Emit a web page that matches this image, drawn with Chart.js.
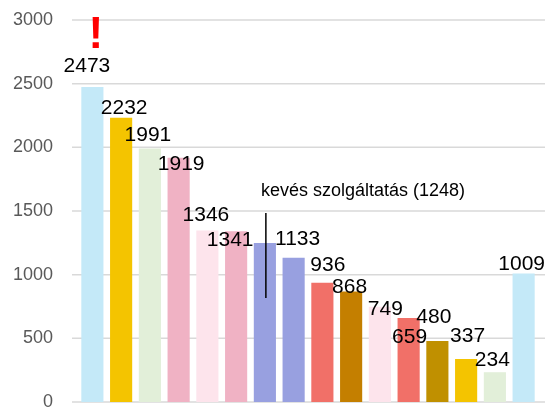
<!DOCTYPE html>
<html>
<head>
<meta charset="utf-8">
<script src="https://cdn.jsdelivr.net/npm/chart.js@4"></script>
<style>
html,body{margin:0;padding:0;background:#fff;overflow:hidden;}
#wrap{width:550px;height:408px;position:relative;}
</style>
</head>
<body>
<div id="wrap"><canvas id="c" width="550" height="408"></canvas></div>
<script>
// ---- data ----
const categories = ["1","2","3","4","5","6","kevés szolgáltatás","8","9","10","11","12","13","14","15","16"];
const values = [2473, 2232, 1991, 1919, 1346, 1341, 1248, 1133, 936, 868, 749, 659, 480, 337, 234, 1009];
const showValue = [true,true,true,true,true,true,false,true,true,true,true,true,true,true,true,true];
const barColors = ["#C4E9F8","#F4C400","#E2EFD9","#F0B2C4","#FDE4EC","#F0B2C4","#98A0E0","#98A0E0",
                   "#F17068","#C47F00","#FDE4EC","#F17068","#C09000","#F4C400","#E2EFD9","#C4E9F8"];
const yTicks = [0, 500, 1000, 1500, 2000, 2500, 3000];
const annotationText = "kevés szolgáltatás (1248)";
const annotationIndex = 6;
const alertIndex = 0;

// label offsets (px) relative to bar top-centre: [dx, dy]
const labelOffsets = [[-5.5,-21],[3,-10],[-2,-13],[2.5,7],[-1.5,-15.5],[-6,9],[0,0],[4,-19],[5.5,-18],[-1.5,-4],
                      [5.5,3],[1,19.5],[-3.5,-23.5],[1.5,-22.5],[-2.5,-12.5],[-2,-9]];

const overlay = {
  id: 'overlay',
  beforeDatasetsDraw(chart) {
    const ctx = chart.ctx, y = chart.scales.y, a = chart.chartArea;
    ctx.save();
    ctx.strokeStyle = '#D9D9D9';
    ctx.lineWidth = 1.5;
    yTicks.forEach(t => {
      const py = y.getPixelForValue(t);
      ctx.beginPath();
      ctx.moveTo(a.left - 6, py);
      ctx.lineTo(a.right + 7, py);
      ctx.stroke();
    });
    ctx.restore();
  },
  afterDatasetsDraw(chart) {
    const ctx = chart.ctx;
    const meta = chart.getDatasetMeta(0);
    ctx.save();
    ctx.fillStyle = '#000';
    ctx.font = '21px "Liberation Sans", Arial, sans-serif';
    ctx.textAlign = 'center';
    ctx.textBaseline = 'middle';
    meta.data.forEach((bar, i) => {
      if (!showValue[i]) return;
      const o = labelOffsets[i];
      ctx.fillText(String(values[i]), bar.x + o[0], bar.y + o[1]);
    });
    // annotation
    const ab = meta.data[annotationIndex];
    ctx.font = '18px "Liberation Sans", Arial, sans-serif';
    ctx.textAlign = 'left';
    ctx.fillText(annotationText, ab.x - 4, ab.y - 52);
    ctx.strokeStyle = '#000';
    ctx.lineWidth = 1.5;
    ctx.beginPath();
    ctx.moveTo(ab.x + 1, ab.y - 30);
    ctx.lineTo(ab.x + 1, ab.y + 55);
    ctx.stroke();
    // alert mark
    const fb = meta.data[alertIndex];
    ctx.fillStyle = '#FF0000';
    ctx.font = 'bold 44px "Liberation Sans", Arial, sans-serif';
    ctx.textAlign = 'center';
    ctx.textBaseline = 'alphabetic';
    ctx.fillText('!', fb.x + 3.5, fb.y - 39);
    ctx.restore();
  }
};

new Chart(document.getElementById('c'), {
  type: 'bar',
  data: {
    labels: categories,
    datasets: [{
      data: values,
      backgroundColor: barColors,
      borderWidth: 0,
      barPercentage: 0.77,
      categoryPercentage: 1.0
    }]
  },
  options: {
    responsive: false,
    animation: false,
    layout: { padding: { left: 0, right: 12, top: 20, bottom: 6 } },
    plugins: { legend: { display: false }, tooltip: { enabled: false } },
    scales: {
      x: { display: false, offset: true },
      y: {
        min: 0, max: 3000,
        afterBuildTicks(scale) { scale.ticks = yTicks.map(v => ({ value: v })); },
        afterFit(scale) {
          scale.width = 78;
          scale.paddingTop = 0;
          scale.paddingBottom = 0;
        },
        grid: { display: false, drawTicks: false },
        border: { display: false },
        ticks: {
          padding: 25,
          color: '#595959',
          callback: v => String(v),
          font: { family: '"Liberation Sans", Arial, sans-serif', size: 18 }
        }
      }
    }
  },
  plugins: [overlay]
});
</script>
</body>
</html>
